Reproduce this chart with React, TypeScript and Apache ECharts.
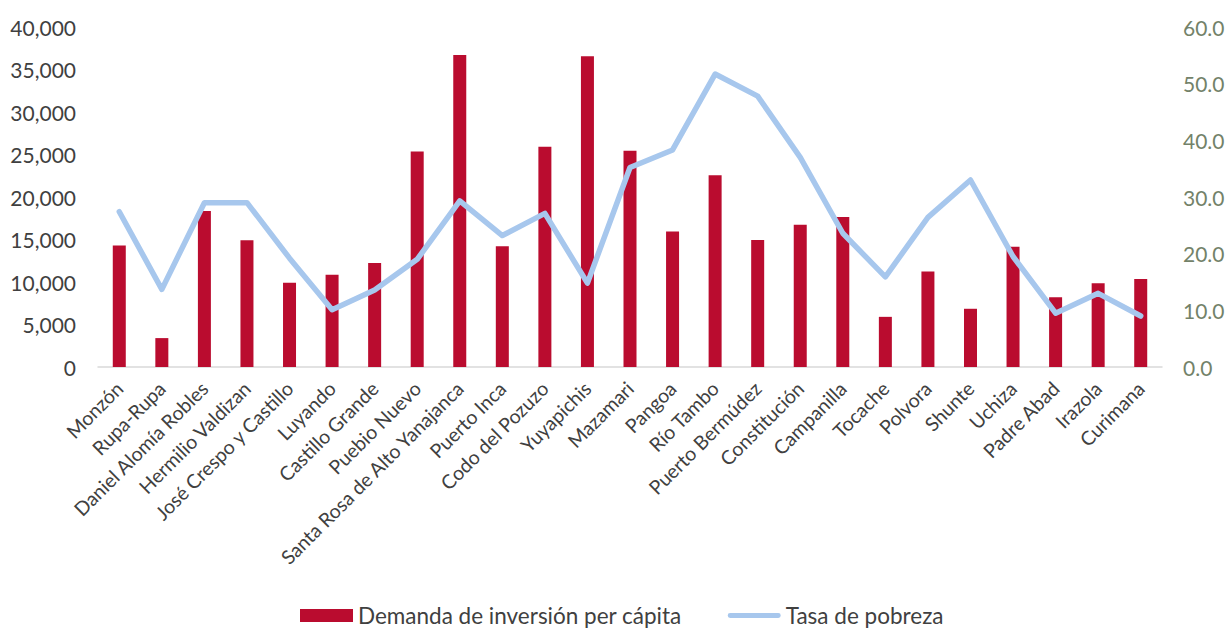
import React, { useEffect, useRef } from "react";
import * as echarts from "echarts";

const categories = [
  "Monzón", "Rupa-Rupa", "Daniel Alomía Robles", "Hermilio Valdizan", "José Crespo y Castillo",
  "Luyando", "Castillo Grande", "Puebio Nuevo", "Santa Rosa de Alto Yanajanca", "Puerto Inca",
  "Codo del Pozuzo", "Yuyapichis", "Mazamari", "Pangoa", "Río Tambo", "Puerto Bermúdez",
  "Constitución", "Campanilla", "Tocache", "Polvora", "Shunte", "Uchiza", "Padre Abad",
  "Irazola", "Curimana",
];

const demanda = [
  14300, 3400, 18350, 14900, 9900, 10850, 12250, 25350, 36700, 14200,
  25900, 36550, 25450, 15950, 22550, 14950, 16750, 17650, 5900, 11250,
  6850, 14150, 8200, 9850, 10350,
];

const pobreza = [
  27.4, 13.7, 29.0, 29.0, 19.2, 10.1, 13.6, 19.0, 29.3, 23.2,
  27.1, 14.8, 35.2, 38.3, 51.7, 47.8, 37.0, 23.6, 15.9, 26.4,
  33.0, 19.5, 9.5, 13.0, 9.0,
];

const FONT = "Lato, 'Open Sans', sans-serif";

export default function App() {
  const ref = useRef<HTMLDivElement>(null);
  useEffect(() => {
    if (!ref.current) return;
    const chart = echarts.init(ref.current, null, { renderer: "svg" });
    chart.setOption({
      animation: false,
      backgroundColor: "#ffffff",
      textStyle: { fontFamily: FONT },
      grid: { left: 98, right: 66, top: 27, bottom: 262, containLabel: false },
      legend: {
        top: 604,
        left: 300,
        padding: 0,
        itemWidth: 53,
        itemHeight: 13,
        itemGap: 46,
        textStyle: { fontFamily: FONT, fontSize: 22.5, color: "#404040" },
        data: [
          { name: "Demanda de inversión per cápita", icon: "rect" },
          { name: "Tasa de pobreza", icon: "path://M2.5,0 H52.5 A2.5,2.5 0 0 1 52.5,5 H2.5 A2.5,2.5 0 0 1 2.5,0 Z" },
        ],
      },
      xAxis: {
        type: "category",
        data: categories,
        axisLine: { show: true, lineStyle: { color: "#D9D9D9", width: 1.5 } },
        axisTick: { show: false },
        axisLabel: {
          interval: 0,
          rotate: 45,
          margin: 18,
          fontSize: 19.5,
          color: "#404040",
          fontFamily: FONT,
        },
      },
      yAxis: [
        {
          type: "value",
          min: 0,
          max: 40000,
          interval: 5000,
          splitLine: { show: false },
          axisLine: { show: false },
          axisTick: { show: false },
          axisLabel: {
            margin: 22,
            fontSize: 21,
            color: "#404040",
            fontFamily: FONT,
            formatter: (v: number) => v.toLocaleString("en-US"),
          },
        },
        {
          type: "value",
          min: 0,
          max: 60,
          interval: 10,
          position: "right",
          splitLine: { show: false },
          axisLine: { show: false },
          axisTick: { show: false },
          axisLabel: {
            margin: 21,
            fontSize: 21,
            color: "#738269",
            fontFamily: FONT,
            formatter: (v: number) => v.toFixed(1),
          },
        },
      ],
      series: [
        {
          name: "Demanda de inversión per cápita",
          type: "bar",
          data: demanda,
          barWidth: 13,
          itemStyle: { color: "#BA0C2F" },
        },
        {
          name: "Tasa de pobreza",
          type: "line",
          yAxisIndex: 1,
          data: pobreza,
          symbol: "none",
          lineStyle: { color: "#A7C7ED", width: 5.5, cap: "round", join: "round" },
          itemStyle: { color: "#A7C7ED" },
        },
      ],
    });
    return () => chart.dispose();
  }, []);
  return (
    <div
      ref={ref}
      style={{ position: "fixed", left: 0, top: 0, width: 1228, height: 629 }}
    />
  );
}
